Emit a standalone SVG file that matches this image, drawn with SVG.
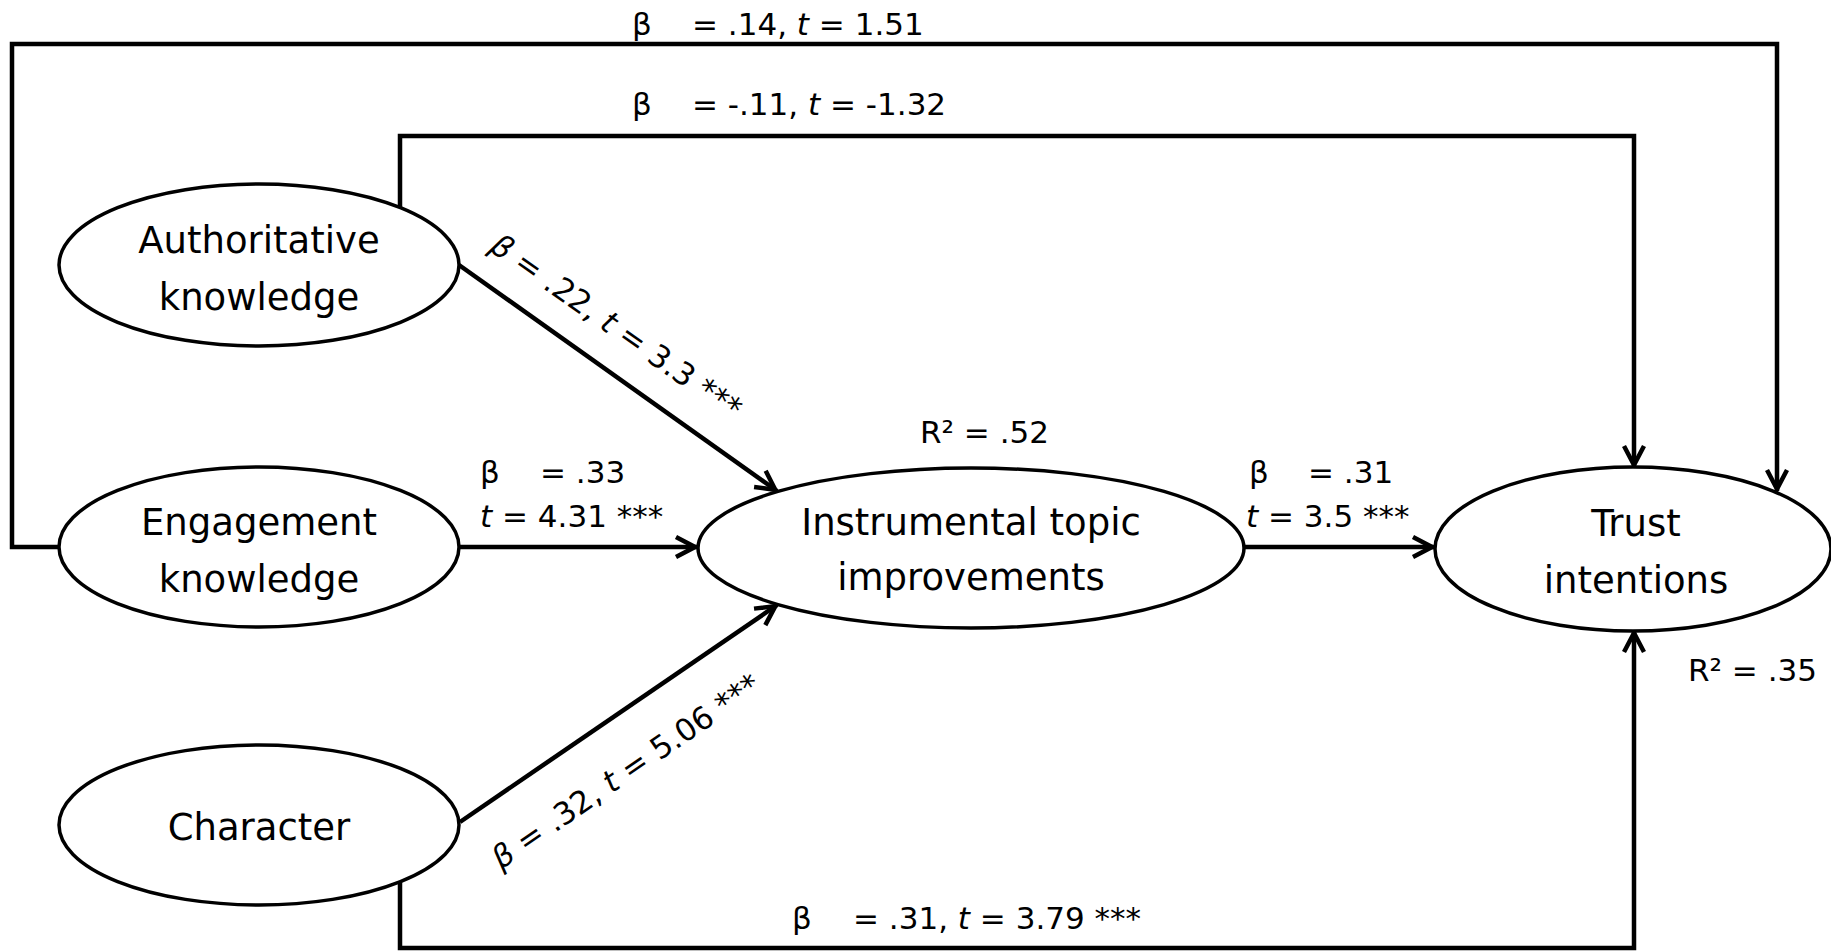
<svg xmlns="http://www.w3.org/2000/svg" width="1831" height="952" viewBox="0 0 1831 952">
<style>
.node ellipse{fill:#fff;stroke:#000;stroke-width:3.5}
.node text{font-family:"DejaVu Sans",sans-serif;font-size:37px;fill:#000;text-anchor:middle}
.conn{fill:none;stroke:#000;stroke-width:4.5;stroke-linejoin:miter}
.lbl{font-family:"DejaVu Sans",sans-serif;font-size:31px;fill:#000}
.it{font-style:italic}
</style>
<defs>
<marker id="arr" viewBox="-26 -14 28 28" refX="0" refY="0" markerWidth="28" markerHeight="28" markerUnits="userSpaceOnUse" orient="auto">
<path d="M-21,-10 L-2,0 L-21,10" fill="none" stroke="#000" stroke-width="4.5"/>
</marker>
</defs>
<rect width="1831" height="952" fill="#fff"/>
<g id="connectors">
<path class="conn" d="M59,547 H12 V44 H1777 V491" marker-end="url(#arr)"/>
<path class="conn" d="M400,207 V136 H1634 V467" marker-end="url(#arr)"/>
<path class="conn" d="M400,882 V948 H1634 V631" marker-end="url(#arr)"/>
<path class="conn" d="M459,265 L777,491" marker-end="url(#arr)"/>
<path class="conn" d="M460,547 H697" marker-end="url(#arr)"/>
<path class="conn" d="M460,822 L777,605" marker-end="url(#arr)"/>
<path class="conn" d="M1244,547 H1434" marker-end="url(#arr)"/>
</g>
<g id="labels">
<text class="lbl" y="35"><tspan x="632">β</tspan><tspan x="692">= .14, </tspan><tspan class="it">t</tspan><tspan> = 1.51</tspan></text>
<text class="lbl" y="115"><tspan x="632">β</tspan><tspan x="692">= -.11, </tspan><tspan class="it">t</tspan><tspan> = -1.32</tspan></text>
<text class="lbl" y="483"><tspan x="480">β</tspan><tspan x="540">= .33</tspan></text>
<text class="lbl" y="527"><tspan x="480" class="it">t</tspan><tspan> = 4.31 ***</tspan></text>
<text class="lbl" y="483"><tspan x="1249">β</tspan><tspan x="1308">= .31</tspan></text>
<text class="lbl" y="527"><tspan x="1246" class="it">t</tspan><tspan> = 3.5 ***</tspan></text>
<text class="lbl" x="920" y="443">R² = .52</text>
<text class="lbl" x="1688" y="681">R² = .35</text>
<text class="lbl" y="929"><tspan x="792">β</tspan><tspan x="853">= .31, </tspan><tspan class="it">t</tspan><tspan> = 3.79 ***</tspan></text>
<text class="lbl" transform="translate(488,250) rotate(35)"><tspan class="it">β</tspan> = .22, <tspan class="it">t</tspan> = 3.3 ***</text>
<text class="lbl" transform="translate(501,870) rotate(-34.5)"><tspan class="it">β</tspan> = .32, <tspan class="it">t</tspan> = 5.06 ***</text>
</g>
<g id="node-authoritative" class="node">
<ellipse cx="259" cy="265" rx="200" ry="81"/>
<text x="259" y="253">Authoritative</text>
<text x="259" y="310">knowledge</text>
</g>
<g id="node-engagement" class="node">
<ellipse cx="259" cy="547" rx="200" ry="80"/>
<text x="259" y="535">Engagement</text>
<text x="259" y="592">knowledge</text>
</g>
<g id="node-character" class="node">
<ellipse cx="259" cy="825" rx="200" ry="80"/>
<text x="259" y="840">Character</text>
</g>
<g id="node-instrumental" class="node">
<ellipse cx="971" cy="548" rx="273" ry="80"/>
<text x="971" y="535">Instrumental topic</text>
<text x="971" y="590">improvements</text>
</g>
<g id="node-trust" class="node">
<ellipse cx="1633" cy="549" rx="198" ry="82"/>
<text x="1636" y="536">Trust</text>
<text x="1636" y="593">intentions</text>
</g>
</svg>
